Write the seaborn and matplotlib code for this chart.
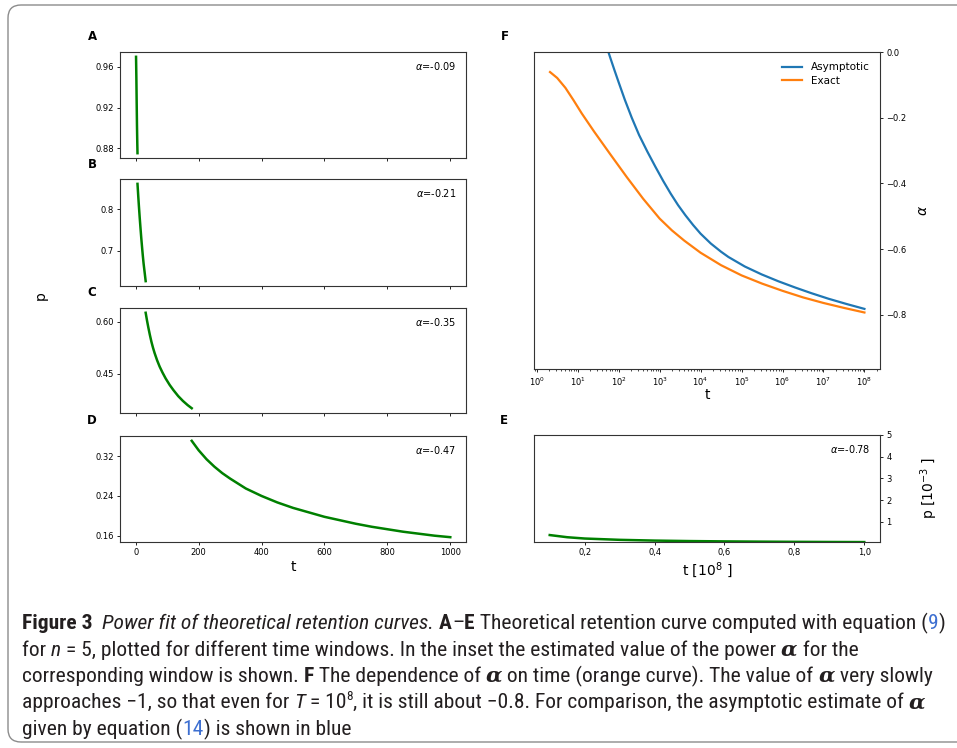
import matplotlib
matplotlib.use("Agg")
import numpy as np
import matplotlib.pyplot as plt
import seaborn as sns
from matplotlib import font_manager
from matplotlib.patches import FancyBboxPatch

# =====================================
# DATA
# =====================================

# panels A-D : p(t) for four time windows
t_a = [1.0, 2.0, 3.0, 4.0, 5.0, 5.62]
p_a = [0.970, 0.950, 0.925, 0.902, 0.884, 0.875]

t_b = [5.62, 8.0, 10.0, 12.5, 15.0, 17.5, 20.0, 22.5, 25.0, 28.0, 31.6]
p_b = [0.860, 0.831, 0.808, 0.781, 0.756, 0.732, 0.710, 0.689, 0.670, 0.651, 0.628]

t_c = [31.6, 36, 40, 45, 50, 55, 60, 68, 76, 85, 95, 108, 120, 135, 150, 165, 178]
p_c = [0.626, 0.603, 0.584, 0.562, 0.542, 0.525, 0.510, 0.489, 0.471, 0.454,
       0.437, 0.418, 0.403, 0.386, 0.372, 0.360, 0.351]

t_d = [178, 200, 225, 250, 275, 300, 350, 400, 450, 500, 550, 600, 650, 700,
       750, 800, 850, 900, 950, 1000]
p_d = [0.351, 0.332, 0.314, 0.299, 0.286, 0.275, 0.255, 0.240, 0.227, 0.216,
       0.207, 0.198, 0.191, 0.184, 0.178, 0.173, 0.168, 0.164, 0.160, 0.157]

# panel E : t in 1e8, p in 1e-3
t_e = [0.1, 0.15, 0.2, 0.3, 0.4, 0.5, 0.6, 0.7, 0.8, 0.9, 1.0]
p_e = [0.39, 0.29, 0.23, 0.17, 0.135, 0.113, 0.098, 0.087, 0.078, 0.071, 0.066]

# fitted exponents shown in the insets
alpha_labels = ["-0.09", "-0.21", "-0.35", "-0.47", "-0.78"]

# panel F : alpha vs log10(t)
log_t_asym = [1.70, 1.75, 1.80, 1.90, 2.00, 2.15, 2.32, 2.50, 2.70, 2.90, 3.09,
              3.27, 3.45, 3.63, 3.82, 4.00, 4.25, 4.50, 4.68, 5.08, 5.49, 5.90,
              6.31, 6.70, 7.12, 7.56, 8.00]
alpha_asym = [0.020, 0.000, -0.019, -0.056, -0.092, -0.145, -0.200, -0.253,
              -0.303, -0.350, -0.393, -0.431, -0.466, -0.497, -0.527, -0.553,
              -0.583, -0.608, -0.624, -0.653, -0.677, -0.698, -0.717, -0.734,
              -0.751, -0.767, -0.782]

log_t_exact = [0.325, 0.50, 0.70, 0.90, 1.10, 1.40, 1.80, 2.20, 2.60, 3.00,
               3.30, 3.60, 4.00, 4.50, 5.00, 5.50, 6.00, 6.50, 7.00, 7.50, 8.00]
alpha_exact = [-0.061, -0.079, -0.109, -0.147, -0.187, -0.242, -0.312, -0.381,
               -0.447, -0.507, -0.543, -0.574, -0.611, -0.649, -0.680, -0.705,
               -0.727, -0.747, -0.764, -0.779, -0.793]

e_xticks = [0.2, 0.4, 0.6, 0.8, 1.0]
e_xticklabels = ["0,2", "0,4", "0,6", "0,8", "1,0"]
e_yticks = [1, 2, 3, 4, 5]

# =====================================
# FIGURE
# =====================================

W, H = 957, 748
fig = plt.figure(figsize=(W / 100, H / 100), dpi=100)
plt.rcParams["font.family"] = ["DejaVu Sans"]


def px_axes(left, right, top, bottom, **kw):
    return fig.add_axes([left / W, 1 - bottom / H, (right - left) / W,
                         (bottom - top) / H], **kw)


ax_a = px_axes(120, 466, 52, 158)
ax_b = px_axes(120, 466, 179, 286, sharex=ax_a)
ax_c = px_axes(120, 466, 308, 413, sharex=ax_a)
ax_d = px_axes(120, 466, 436, 542, sharex=ax_a)
ax_f = px_axes(534, 880, 52, 369)
ax_e = px_axes(534, 880, 435, 542)

green = "#008000"
left_panels = [
    (ax_a, t_a, p_a, [0.88, 0.92, 0.96]),
    (ax_b, t_b, p_b, [0.7, 0.8]),
    (ax_c, t_c, p_c, [0.45, 0.60]),
    (ax_d, t_d, p_d, [0.16, 0.24, 0.32]),
]

for i, (ax, t, p, yt) in enumerate(left_panels):
    sns.lineplot(x=t, y=p, ax=ax, color=green, linewidth=1.8)
    ax.set_yticks(yt)
    ax.text(0.971, 0.87, r"$\alpha$=" + alpha_labels[i], transform=ax.transAxes,
            ha="right", va="center", fontsize=7)
    if ax is not ax_d:
        ax.tick_params(labelbottom=False)

ax_d.set_xlim(-50, 1050)
ax_d.set_xticks([0, 200, 400, 600, 800, 1000])
ax_d.set_xlabel("t", fontsize=10, labelpad=2)

# panel E
sns.lineplot(x=t_e, y=p_e, ax=ax_e, color=green, linewidth=1.8)
ax_e.set_xlim(0.055, 1.045)
ax_e.set_ylim(0.07, 5.0)
ax_e.set_xticks(e_xticks)
ax_e.set_xticklabels(e_xticklabels)
ax_e.set_yticks(e_yticks)
ax_e.yaxis.tick_right()
ax_e.yaxis.set_label_position("right")
ax_e.set_ylabel(r"p [10$^{-3}$ ]", fontsize=10)
ax_e.yaxis.set_label_coords(1.11, 0.5)
ax_e.set_xlabel(r"t [10$^{8}$ ]", fontsize=10, labelpad=2)
ax_e.text(0.971, 0.87, r"$\alpha$=" + alpha_labels[4], transform=ax_e.transAxes,
          ha="right", va="center", fontsize=7)

# panel F
sns.lineplot(x=np.power(10.0, log_t_asym), y=alpha_asym, ax=ax_f,
             color="#1f77b4", linewidth=1.6, label="Asymptotic")
sns.lineplot(x=np.power(10.0, log_t_exact), y=alpha_exact, ax=ax_f,
             color="#ff7f0e", linewidth=1.6, label="Exact")
ax_f.set_xscale("log")
ax_f.set_xlim(10 ** -0.066, 10 ** 8.38)
ax_f.set_ylim(-0.965, 0.0)
ax_f.set_xticks([10.0 ** k for k in range(9)])
ax_f.set_yticks([0.0, -0.2, -0.4, -0.6, -0.8])
ax_f.yaxis.tick_right()
ax_f.yaxis.set_label_position("right")
ax_f.set_ylabel(r"$\alpha$", fontsize=10)
ax_f.yaxis.set_label_coords(1.105, 0.5)
ax_f.set_xlabel("t", fontsize=10, labelpad=0)
ax_f.legend(loc="upper right", frameon=False, fontsize=7.5,
            handlelength=2.0, borderaxespad=0.6, labelspacing=0.3)

for ax in [ax_a, ax_b, ax_c, ax_d, ax_e, ax_f]:
    ax.tick_params(labelsize=6, length=2.5, width=0.6, pad=2)
    ax.tick_params(which="minor", length=1.5, width=0.5)
    for s in ax.spines.values():
        s.set_linewidth(0.8)
        s.set_color("#333333")

# panel letters
for letter, x, y in [("A", 92, 37), ("B", 92, 164), ("C", 92, 292),
                     ("D", 92, 420), ("F", 505, 37), ("E", 504, 420)]:
    fig.text(x / W, 1 - y / H, letter, fontsize=8.5, fontweight="bold",
             ha="center", va="center")

fig.text(41 / W, 1 - 296 / H, "p", rotation=90, fontsize=10,
         ha="center", va="center")

# =====================================
# CAPTION
# =====================================


def has_bold(name):
    for f in font_manager.fontManager.ttflist:
        if f.name != name:
            continue
        w = f.weight
        if isinstance(w, str):
            w = font_manager.weight_dict.get(w, 400)
        if w >= 600:
            return True
    return False


candidates = ["Liberation Sans Narrow", "Roboto Condensed", "Open Sans Condensed",
              "Noto Sans Condensed", "Roboto", "Liberation Sans", "DejaVu Sans"]
cap_font = next(n for n in candidates if has_bold(n))

ink = "#231f20"
styles = {
    "n": dict(family=cap_font, color=ink),
    "b": dict(family=cap_font, color=ink, weight="bold"),
    "i": dict(family=cap_font, color=ink, style="italic"),
    "blue": dict(family=cap_font, color="#3d6fd1"),
    "a": dict(family="DejaVu Serif", color=ink, style="italic", weight="bold"),
    "sup": dict(family=cap_font, color=ink),
}

caption = [
    [("Figure 3", "b"), ("  ", "n"), ("Power fit of theoretical retention curves.", "i"),
     (" ", "n"), ("A", "b"), ("–", "n"), ("E", "b"),
     (" Theoretical retention curve computed with equation (", "n"), ("9", "blue"), (")", "n")],
    [("for ", "n"), ("n", "i"),
     (" = 5, plotted for different time windows. In the inset the estimated value of the power ", "n"),
     ("α", "a"), (" for the", "n")],
    [("corresponding window is shown. ", "n"), ("F", "b"), (" The dependence of ", "n"),
     ("α", "a"), (" on time (orange curve). The value of ", "n"), ("α", "a"),
     (" very slowly", "n")],
    [("approaches −1, so that even for ", "n"), ("T", "i"), (" = 10", "n"), ("8", "sup"),
     (", it is still about −0.8. For comparison, the asymptotic estimate of ", "n"),
     ("α", "a")],
    [("given by equation (", "n"), ("14", "blue"), (") is shown in blue", "n")],
]
baselines = [629, 655.5, 682, 708.5, 735]

renderer = fig.canvas.get_renderer()


def seg_width(txt, kind, size):
    kw = styles[kind]
    if kind == "sup":
        size = size * 0.62
    t1 = fig.text(0, 0, "|" + txt + "|", fontsize=size, **kw)
    t2 = fig.text(0, 0, "||", fontsize=size, **kw)
    w = t1.get_window_extent(renderer).width - t2.get_window_extent(renderer).width
    t1.remove()
    t2.remove()
    return w


base_size = 14
w1 = sum(seg_width(s, k, base_size) for s, k in caption[0])
cap_size = min(15.5, base_size * 928 / w1)

for line, yb in zip(caption, baselines):
    x = 22
    for txt, kind in line:
        size = cap_size
        y = yb
        if kind == "sup":
            size = cap_size * 0.62
            y = yb - cap_size * 0.55
        fig.text(x / W, 1 - y / H, txt, fontsize=size, ha="left", va="baseline",
                 **styles[kind])
        x += seg_width(txt, kind, cap_size)

# rounded frame around the figure
frame = FancyBboxPatch((0.08, 0.06), 9.8, 7.37,
                       boxstyle="round,pad=0,rounding_size=0.13",
                       transform=fig.dpi_scale_trans, fill=False,
                       edgecolor="#8c8c8c", linewidth=1.0, clip_on=False)
fig.add_artist(frame)

fig.savefig("out.png", dpi=100)
